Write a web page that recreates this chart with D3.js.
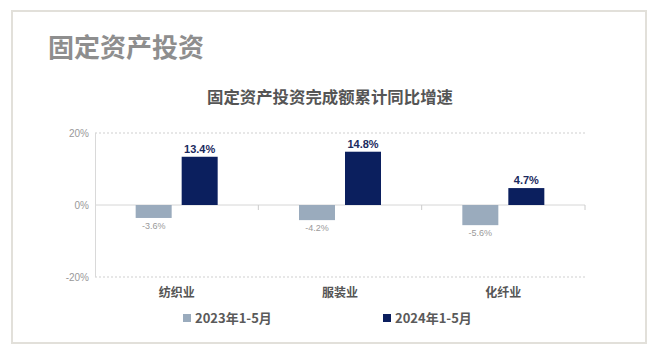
<!DOCTYPE html>
<html><head><meta charset="utf-8">
<script src="https://cdn.jsdelivr.net/npm/d3@7"></script>
<style>
html,body{margin:0;padding:0;background:#fff;}
svg{display:block;font-family:"Noto Sans CJK SC","Noto Sans",sans-serif;}
</style></head>
<body>
<svg id="chart" width="665" height="356"></svg>
<script>
const pageTitle = "固定资产投资";
const chartTitle = "固定资产投资完成额累计同比增速";
const categories = ["纺织业", "服装业", "化纤业"];
const seriesNames = ["2023年1-5月", "2024年1-5月"];
const values2023 = [-3.6, -4.2, -5.6];
const values2024 = [13.4, 14.8, 4.7];
const yTicks = [-20, 0, 20];
const colors = ["#9aabbd", "#0b1f5e"];

const svg = d3.select("#chart");
// frame
svg.append("rect").attr("x", 12).attr("y", 11).attr("width", 634).attr("height", 332)
  .attr("fill", "#fff").attr("stroke", "#e2e0da").attr("stroke-width", 2);

svg.append("text").attr("x", 48).attr("y", 57).text(pageTitle)
  .attr("font-size", 26).attr("font-weight", "bold").attr("fill", "#8e8e8e");
svg.append("text").attr("x", 330).attr("y", 103).attr("text-anchor", "middle").text(chartTitle)
  .attr("font-size", 16.4).attr("font-weight", "bold").attr("fill", "#555");

const x0 = d3.scaleBand().domain(categories).range([95, 585]).paddingInner(0).paddingOuter(0);
const y = d3.scaleLinear().domain([-20, 20]).range([277, 133]);

const g = svg.append("g");
// gridlines
yTicks.forEach(t => {
  g.append("line").attr("x1", 95).attr("x2", 585).attr("y1", y(t)).attr("y2", y(t))
    .attr("stroke", t === 0 ? "#d6d6d6" : "#cfcfcf")
    .attr("stroke-width", 1)
    .attr("stroke-dasharray", t === 0 ? null : "2,2");
});
// y axis line
g.append("line").attr("x1", 95.5).attr("x2", 95.5).attr("y1", y(20)).attr("y2", y(-20))
  .attr("stroke", "#d9d9d9");
// tick labels
yTicks.forEach(t => {
  g.append("text").attr("x", 89).attr("y", y(t) + 4).attr("text-anchor", "end")
    .attr("font-size", 10).attr("fill", "#999").attr("font-family", "Liberation Sans, Arial, sans-serif")
    .text(t + "%");
});
// category ticks
categories.forEach((c, i) => {
  const xx = x0(c) + x0.bandwidth();
  g.append("line").attr("x1", xx).attr("x2", xx).attr("y1", y(0)).attr("y2", y(0) + 5)
    .attr("stroke", "#ccc");
});

const barW = 36, gap = 10;
const series = [values2023, values2024];
series.forEach((vals, si) => {
  vals.forEach((v, i) => {
    const cx = x0(categories[i]) + x0.bandwidth() / 2;
    const bx = si === 0 ? cx - gap / 2 - barW : cx + gap / 2;
    g.append("rect").attr("x", bx).attr("width", barW)
      .attr("y", Math.min(y(v), y(0))).attr("height", Math.abs(y(v) - y(0)))
      .attr("fill", colors[si]);
    const lbl = g.append("text").attr("x", bx + barW / 2).attr("text-anchor", "middle")
      .attr("font-family", "Liberation Sans, Arial, sans-serif")
      .text(v.toFixed(1) + "%");
    if (v >= 0) {
      lbl.attr("y", y(v) - 4).attr("font-size", 11).attr("font-weight", "bold").attr("fill", "#1a2a5e");
    } else {
      lbl.attr("y", y(v) + 11).attr("font-size", 9).attr("fill", "#9a9a9a");
    }
  });
});

// category labels
categories.forEach(c => {
  g.append("text").attr("x", x0(c) + x0.bandwidth() / 2).attr("y", 297).attr("text-anchor", "middle")
    .attr("font-size", 12).attr("font-weight", "bold").attr("fill", "#555").text(c);
});

// legend
const legX = [183, 383];
seriesNames.forEach((n, i) => {
  svg.append("rect").attr("x", legX[i]).attr("y", 314).attr("width", 8).attr("height", 8).attr("fill", colors[i]);
  svg.append("text").attr("x", legX[i] + 12).attr("y", 323).attr("font-size", 13).attr("font-weight", "bold")
    .attr("fill", "#5a5a5a").text(n);
});
</script>
</body></html>
